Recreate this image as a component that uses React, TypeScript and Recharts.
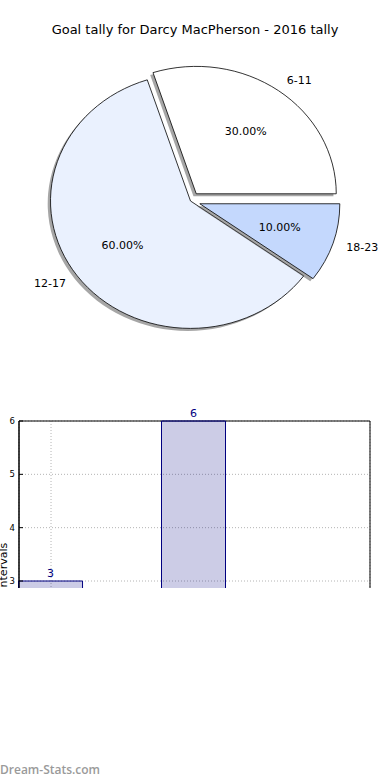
import React from "react"
import {
    PieChart, Pie, Cell, Sector, BarChart, Bar, XAxis, YAxis, CartesianGrid, LabelList, ReferenceArea,
} from "recharts"

const intervals = ["6-11", "12-17", "18-23"]
const goals = [3, 6, 1]
const sliceColors = ["#ffffff", "#eaf1fe", "#c4d8fd"]
const explode = [0.07, 0, 0.07]
const yTicks = [3, 4, 5, 6]

const pieData = intervals.map((name, i) => ({ name, value: goals[i] }))
const barData = intervals.map((name, i) => ({ name, x: i, goals: goals[i] }))

const FONT = "'DejaVu Sans', sans-serif"
const SQUASH = 0.91 // matplotlib axes were not square, so the pie is an ellipse
const SHADOW_DX = -2.8
const SHADOW_DY = 2.5

function sliceCenter(props: any) {
    const { cx, cy, outerRadius, midAngle } = props
    const idx = intervals.indexOf(props.name ?? props.payload?.name)
    const e = explode[idx] ?? 0
    const rad = (midAngle * Math.PI) / 180
    return {
        ox: cx + e * outerRadius * Math.cos(rad),
        oy: cy - e * outerRadius * SQUASH * Math.sin(rad),
    }
}

const ExplodedSlice = (props: any) => {
    const { outerRadius, startAngle, endAngle, fill } = props
    const { ox, oy } = sliceCenter(props)
    const squash = `translate(0 ${oy}) scale(1 ${SQUASH}) translate(0 ${-oy})`
    return (
        <g>
            <g transform={`translate(${SHADOW_DX} ${SHADOW_DY})`}>
                <g transform={squash}>
                    <Sector cx={ox} cy={oy} innerRadius={0} outerRadius={outerRadius}
                        startAngle={startAngle} endAngle={endAngle} fill="#4d4d4d" fillOpacity={0.5} stroke="none" />
                </g>
            </g>
            <g transform={squash}>
                <Sector cx={ox} cy={oy} innerRadius={0} outerRadius={outerRadius}
                    startAngle={startAngle} endAngle={endAngle} fill={fill} stroke="#000"
                    strokeWidth={0.8} vectorEffect="non-scaling-stroke" />
            </g>
        </g>
    )
}

const renderPieLabel = (props: any) => {
    const { outerRadius, midAngle, percent, name } = props
    const { ox, oy } = sliceCenter(props)
    const rad = (midAngle * Math.PI) / 180
    const c = Math.cos(rad)
    const s = Math.sin(rad)
    return (
        <g style={{ fontFamily: FONT, fontSize: 11 }}>
            <text x={ox + 1.1 * outerRadius * c} y={oy - 1.1 * outerRadius * SQUASH * s}
                textAnchor={c >= 0 ? "start" : "end"} dominantBaseline="central" fill="#000">
                {name}
            </text>
            <text x={ox + 0.6 * outerRadius * c} y={oy - 0.6 * outerRadius * SQUASH * s}
                textAnchor="middle" dominantBaseline="central" fill="#000">
                {(percent * 100).toFixed(2)}%
            </text>
        </g>
    )
}

const YLabel = (props: any) => {
    const { viewBox } = props
    const x = viewBox.x + 7
    const y = viewBox.y + viewBox.height / 2
    return (
        <text x={x} y={y} transform={`rotate(-90 ${x} ${y})`} textAnchor="middle"
            style={{ fontFamily: FONT, fontSize: 11 }} fill="#000">
            Goal Intervals
        </text>
    )
}

export default function App() {
    return (
        <div style={{ position: "absolute", left: 0, top: 0, width: 390, height: 780, overflow: "hidden", background: "#fff", fontFamily: FONT }}>
            <div style={{ position: "absolute", top: 22, left: 0, width: 390, textAlign: "center", fontSize: 13, lineHeight: "16px", color: "#000" }}>
                Goal tally for Darcy MacPherson - 2016 tally
            </div>

            <div style={{ position: "absolute", left: 0, top: 0 }}>
                <PieChart width={390} height={380} margin={{ top: 0, right: 0, bottom: 0, left: 0 }}>
                    <Pie data={pieData} dataKey="value" nameKey="name" cx={190.5} cy={201} outerRadius={140}
                        startAngle={0} endAngle={360} stroke="none" shape={ExplodedSlice}
                        label={renderPieLabel} labelLine={false} isAnimationActive={false}>
                        {pieData.map((d, i) => (
                            <Cell key={`slice-${d.name}`} fill={sliceColors[i]} />
                        ))}
                    </Pie>
                </PieChart>
            </div>

            <div style={{ position: "absolute", left: 0, top: 400, width: 390, height: 188, overflow: "hidden" }}>
                <BarChart width={390} height={361} data={barData} margin={{ top: 21, right: 20, bottom: 20, left: 0 }}>
                    <CartesianGrid stroke="#b4b4b4" strokeDasharray="1 2" />
                    <XAxis dataKey="x" type="number" domain={[-0.224, 2.231]} ticks={[0]} hide />
                    <YAxis width={19} domain={[0, 6]} ticks={yTicks} interval={0}
                        axisLine={{ stroke: "#000" }} tickLine={{ stroke: "#000" }} tickSize={-4} tickMargin={8}
                        tick={{ fontSize: 8.5, fill: "#000", fontFamily: FONT }}
                        label={{ content: <YLabel /> }} />
                    <YAxis yAxisId="r" orientation="right" width={0} domain={[0, 6]} ticks={yTicks} interval={0}
                        axisLine={{ stroke: "#000" }} tickLine={{ stroke: "#000" }} tickSize={-4}
                        tick={() => <g />} />
                    <ReferenceArea x1={-0.224} x2={2.231} y1={0} y2={6} fill="none" stroke="#000" strokeWidth={1} ifOverflow="visible" />
                    <Bar dataKey="goals" barSize={64} fill="#000080" fillOpacity={0.2} stroke="#000080"
                        strokeWidth={1} isAnimationActive={false}>
                        <LabelList dataKey="goals" position="top" offset={4} fill="#000080"
                            style={{ fontSize: 11, fontFamily: FONT }} />
                    </Bar>
                </BarChart>
            </div>

            <div style={{ position: "absolute", left: 0, top: 762, fontFamily: "'Open Sans', sans-serif", fontWeight: 600, fontSize: 12, lineHeight: "16px", color: "#9a9a9a" }}>
                Dream-Stats.com
            </div>
        </div>
    )
}
